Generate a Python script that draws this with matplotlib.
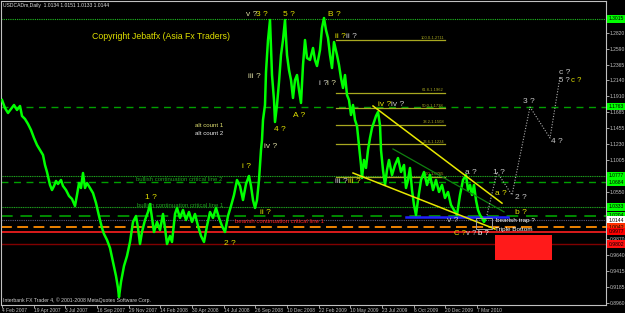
import matplotlib
matplotlib.use("Agg")
import matplotlib.pyplot as plt
from matplotlib.patches import Rectangle
import matplotlib.transforms as mtransforms

plt.rcParams["font.family"] = ["Liberation Sans", "DejaVu Sans"]

# USDCADm daily, swing points (bar index, price)
bars = [0, 6, 12, 18, 24, 30, 36, 40, 46, 52, 58, 64, 70, 76, 82, 86, 90, 96, 100, 104,
        108, 112, 118, 122, 128, 134, 140, 146, 150, 154, 158, 162, 166, 170, 176, 182, 188, 194, 200, 204,
        210, 216, 222, 228, 232, 234, 238, 244, 250, 256, 262, 268, 272, 276, 280, 286, 292, 296, 300, 304,
        310, 316, 322, 326, 330, 336, 340, 346, 350, 356, 362, 368, 374, 380, 386, 392, 398, 404, 410, 416,
        422, 428, 434, 440, 446, 452, 458, 464, 470, 476, 482, 488, 494, 498, 502, 506, 510, 514, 518, 520,
        522, 526, 528, 532, 536, 540, 544, 546, 550, 554, 558, 562, 566, 570, 574, 578, 582, 586, 590, 594,
        598, 602, 606, 610, 616, 622, 626, 630, 636, 640, 644, 648, 652, 656, 660, 664, 670, 674, 678, 682,
        686, 690, 694, 698, 702, 706, 710, 714, 718, 720, 724, 728, 732, 736, 740, 744, 748, 752, 756, 758,
        762, 766, 770, 774, 780, 786, 792, 798, 804, 808, 812, 816, 820, 824, 828, 832, 838, 844, 850, 856,
        862, 868, 874, 880, 886, 892, 898, 904, 910, 916, 922, 928, 932, 936, 940, 944, 948, 952, 956, 960,
        964, 966]
prices = [1.1858, 1.1744, 1.1673, 1.1730, 1.1787, 1.1716, 1.1773, 1.1630, 1.1587, 1.1516,
          1.1430, 1.1316, 1.1216, 1.1145, 1.1073, 1.0930, 1.0830, 1.0645, 1.0573, 1.0630,
          1.0702, 1.0659, 1.0716, 1.0630, 1.0573, 1.0488, 1.0445, 1.0345, 1.0502, 1.0673,
          1.0602, 1.0816, 1.0602, 1.0673, 1.0602, 1.0530, 1.0388, 1.0202, 1.0031, 0.9945,
          0.9860, 0.9745, 0.9545, 0.9345, 0.9174, 0.9045, 0.9260, 0.9488, 0.9631, 0.9831,
          1.0117, 1.0202, 1.0031, 0.9802, 0.9974, 1.0145, 1.0259, 1.0373, 1.0174, 0.9974,
          1.0117, 1.0002, 1.0231, 1.0031, 0.9802, 0.9917, 0.9831, 1.0231, 1.0317, 1.0174,
          1.0288, 1.0145, 1.0259, 1.0117, 1.0231, 1.0060, 0.9917, 0.9831, 1.0060, 1.0259,
          1.0174, 1.0317, 1.0174, 1.0060, 0.9974, 1.0202, 1.0345, 1.0502, 1.0716, 1.0630,
          1.0430, 1.0659, 1.0773, 1.0630, 1.0430, 1.0317, 1.0430, 1.0716, 1.1145, 1.1287,
          1.1573, 1.1787, 1.2258, 1.2715, 1.3001, 1.2215, 1.1858, 1.1544, 1.1787, 1.2115,
          1.2501, 1.2715, 1.3001, 1.2501, 1.2287, 1.2144, 1.1887, 1.2144, 1.2215, 1.2001,
          1.1816, 1.2358, 1.2715, 1.2458, 1.2430, 1.2601, 1.2430, 1.2344, 1.2572, 1.2887,
          1.3029, 1.2858, 1.2744, 1.2501, 1.2315, 1.2687, 1.2501, 1.2358, 1.2172, 1.2030,
          1.2215, 1.1930, 1.1858, 1.1644, 1.1787, 1.1573, 1.1487, 1.1216, 1.0930, 1.0745,
          1.1002, 1.0888, 1.1145, 1.1316, 1.1459, 1.1544, 1.1630, 1.1687, 1.1501, 1.1145,
          1.0859, 1.0645, 1.0859, 1.1002, 1.0787, 1.0930, 1.1030, 1.0830, 1.0930, 1.0602,
          1.0716, 1.0888, 1.0573, 1.0359, 1.0216, 1.0430, 1.0716, 1.0830, 1.0645, 1.0787,
          1.0573, 1.0716, 1.0545, 1.0645, 1.0459, 1.0545, 1.0359, 1.0288, 1.0216, 1.0502,
          1.0716, 1.0787, 1.0573, 1.0645, 1.0502, 1.0645, 1.0430, 1.0288, 1.0216, 1.0174,
          1.0117, 1.0145]

date_labels = ["4 Feb 2007", "19 Apr 2007", "3 Jul 2007", "16 Sep 2007", "29 Nov 2007",
               "14 Feb 2008", "30 Apr 2008", "14 Jul 2008", "26 Sep 2008", "10 Dec 2008",
               "22 Feb 2009", "10 May 2009", "23 Jul 2009", "6 Oct 2009", "20 Dec 2009", "7 Mar 2010"]
price_ticks = [1.2820, 1.2590, 1.2365, 1.2140, 1.1910, 1.1685, 1.1455, 1.1230, 1.1005,
               1.0550, 0.9870, 0.9640, 0.9415, 0.9185, 0.8960]

# horizontal levels: price, colour, style, width, tag colour
levels = [
    (1.3015, "#1fbf1f", (0, (1, 1)), 0.8, "#00ff00"),
    (1.1763, "#00a000", (0, (5, 4)), 1.0, "#00ff00"),
    (1.0777, "#1f9f1f", (0, (1, 0.6)), 0.8, "#00ff00"),
    (1.0684, "#00a000", (0, (5, 4)), 1.0, "#00ff00"),
    (1.0333, "#1f9f1f", (0, (1, 0.6)), 0.8, "#00ff00"),
    (1.0204, "#008a00", (0, (6, 4)), 1.4, "#00ff00"),
    (1.0144, "#5a5a7a", (0, (1, 1)), 0.8, "#ffffff"),
    (1.0042, "#ff8c00", (0, (6, 3)), 1.3, "#ff3000"),
    (0.9977, "#ff2020", "-", 1.2, "#ff0000"),
    (0.9802, "#800000", "-", 1.0, "#ff1010"),
]
level_text = ["1.3015", "1.1763", "1.0777", "1.0684", "1.0333", "1.0204",
              "1.0144", "1.0042", "0.9977", "0.9802"]

fib_pct = ["100.0", "61.8", "50.0", "38.2", "23.6", "0.0"]
fib_price = [1.2711, 1.1962, 1.1738, 1.1508, 1.1224, 1.0765]

proj_bars = [970, 990, 1020, 1056, 1096, 1116]
proj_prices = [1.0216, 1.0830, 1.0502, 1.1758, 1.1316, 1.2187]

YEL = "#e0e000"
PALE = "#d8d8a0"
GRY = "#c8c8c8"
WAVES = [
    ("v ?", 488, 1.3086, PALE), ("3 ?", 508, 1.3086, YEL), ("5 ?", 562, 1.3086, YEL),
    ("B ?", 652, 1.3086, YEL), ("ii ?", 666, 1.2772, YEL), ("ii ?", 688, 1.2772, GRY),
    ("iii ?", 492, 1.2187, PALE), ("i ?", 634, 1.2101, GRY), ("i ?", 650, 1.2101, PALE),
    ("A ?", 582, 1.1644, YEL), ("4 ?", 544, 1.1430, YEL), ("iv ?", 524, 1.1201, PALE),
    ("iv ?", 752, 1.1801, YEL), ("iv ?", 778, 1.1801, GRY),
    ("3 ?", 1042, 1.1844, GRY), ("4 ?", 1098, 1.1259, GRY), ("c ?", 1114, 1.2258, GRY),
    ("5 ?", 1114, 1.2130, GRY), ("c ?", 1138, 1.2130, YEL),
    ("iii ?", 666, 1.0688, GRY), ("iii ?", 692, 1.0688, YEL),
    ("a ?", 926, 1.0830, GRY), ("1 ?", 982, 1.0830, GRY), ("a ?", 986, 1.0530, YEL),
    ("2 ?", 1026, 1.0459, GRY), ("b ?", 1026, 1.0245, YEL), ("v ?", 890, 1.0131, GRY),
    ("C ?", 904, 0.9945, YEL), ("v ?", 928, 0.9945, GRY), ("b ?", 952, 0.9945, "#ffffff"),
    ("1 ?", 286, 1.0460, YEL), ("i ?", 480, 1.0902, YEL), ("ii ?", 516, 1.0259, YEL),
    ("2 ?", 444, 0.9816, YEL),
]
SMALL_WAVES = {"C ?", "v ?", "b ?", "5 ?", "c ?"}

fig = plt.figure(figsize=(6.25, 3.13), dpi=100, facecolor="black")
ax = fig.add_axes([1 / 625, 8 / 313, 605 / 625, 304 / 313], facecolor="black")
ax.set_xlim(-2, 1208)
ax.set_ylim(0.8931, 1.3272)

for p, c, ls, lw, _ in levels:
    ax.axhline(p, color=c, ls=ls, lw=lw, zorder=1)

for pct, fp in zip(fib_pct, fib_price):
    ax.plot([668, 886], [fp, fp], color="#a8a820", lw=0.9, zorder=2)
    ax.text(884, fp + 0.001, f"{pct}-{fp:.4f}", color="#a8a820", fontsize=3,
            ha="right", va="bottom", zorder=2)

# channel lines
ax.plot([742, 1000], [1.1773, 1.0385], color="#e8e800", lw=1.1, zorder=4)
ax.plot([702, 986], [1.0816, 1.0016], color="#e8e800", lw=1.1, zorder=4)
ax.plot([782, 1004], [1.1159, 1.0261], color="#108010", lw=0.9, zorder=4)
ax.plot([808, 1012], [1.0188, 1.0188], color="#2020ff", lw=1.8, zorder=2)

ax.plot(bars, prices, color="#00ff00", lw=1.8, zorder=3)

ax.plot(proj_bars, proj_prices, color="#b0b0b0", lw=0.8, ls=(0, (1, 1.5)), zorder=4)
ax.add_patch(Rectangle((948, 1.0016), 32, 0.0157, fill=False, ec="#a0a0a0", lw=0.7, zorder=4))
ax.add_patch(Rectangle((986, 0.9574), 114, 0.0357, fc="#ff1a1a", ec="none", zorder=4))

for txt, b, p, c in WAVES:
    fs = 5.6 if (txt in SMALL_WAVES and p < 1.0 or p == 1.2130) else 6
    ax.text(b, p, txt, color=c, fontsize=fs, ha="left", va="center", zorder=6)

ax.text(180, 1.2772, "Copyright Jebatfx (Asia Fx Traders)", color=YEL, fontsize=6.3,
        ha="left", va="center", zorder=6)
ax.text(386, 1.1501, "alt count 1", color="#e0e070", fontsize=4.4, ha="left", va="center")
ax.text(386, 1.1387, "alt count 2", color="#e8e8e8", fontsize=4.4, ha="left", va="center")
ax.text(268, 1.0730, "bullish continuation critical line 2", color="#1fa01f", fontsize=4.3,
        ha="left", va="center", zorder=6)
ax.text(270, 1.0355, "bullish continuation critical line 1", color="#1fa01f", fontsize=4.3,
        ha="left", va="center", zorder=6)
ax.text(466, 1.0117, "bearish continuation critical line 1", color="#ff2020", fontsize=4.3,
        ha="left", va="center", zorder=6)
ax.text(988, 1.0131, "bearish trap ?", color="#ffffff", fontsize=4.6, ha="left", va="center", zorder=6)
ax.text(986, 1.0002, "Triple Bottom", color="#ffffff", fontsize=4.6, ha="left", va="center", zorder=6)

ax.text(0.003, 0.985, "USDCADm,Daily  1.0134 1.0151 1.0133 1.0144", transform=ax.transAxes,
        color="#e0e0e0", fontsize=3.6, ha="left", va="center")
ax.text(0.004, 0.017, "Interbank FX Trader 4, \u00a9 2001-2008 MetaQuotes Software Corp.",
        transform=ax.transAxes, color="#d0d0d0", fontsize=3.7, ha="left", va="center")

# axes styling, MT4 look
for s in ax.spines.values():
    s.set_color("#c0c0c0")
    s.set_linewidth(0.8)
ax.set_xticks([i * 63.33 for i in range(len(date_labels))])
ax.set_xticklabels(date_labels, ha="left")
ax.yaxis.tick_right()
ax.set_yticks(price_ticks)
ax.set_yticklabels([f"{v:.4f}" for v in price_ticks])
ax.tick_params(axis="x", colors="#c0c0c0", labelsize=3.5, length=2, pad=0.5, width=0.6)
ax.tick_params(axis="y", colors="#c0c0c0", labelsize=3.6, length=2, pad=0.8, width=0.6)

trans = mtransforms.blended_transform_factory(ax.transAxes, ax.transData)
for (p, _, _, _, tag), t in zip(levels, level_text):
    ax.text(1.004, p, t, transform=trans, color="black", fontsize=3.6, ha="left",
            va="center", clip_on=False, zorder=10,
            bbox=dict(boxstyle="square,pad=0.25", fc=tag, ec="none"))

fig.savefig("out.png", dpi=100, facecolor="black")
